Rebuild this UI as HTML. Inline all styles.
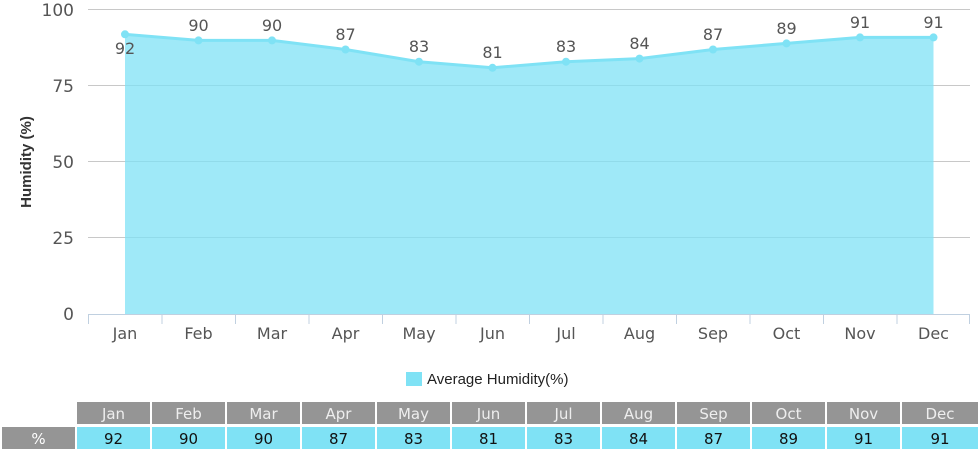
<!DOCTYPE html>
<html><head><style>
body{margin:0;background:#fff;width:980px;height:460px;overflow:hidden;font-family:"Liberation Sans",sans-serif}
</style></head><body>
<svg width="980" height="460" xmlns="http://www.w3.org/2000/svg" style="position:absolute;left:0;top:0">
<g stroke="#c8c8c8" stroke-width="1">
<line x1="88" y1="9.5" x2="970" y2="9.5"/>
<line x1="88" y1="85.5" x2="970" y2="85.5"/>
<line x1="88" y1="161.5" x2="970" y2="161.5"/>
<line x1="88" y1="237.5" x2="970" y2="237.5"/>
</g>
<line x1="88" y1="314.5" x2="970" y2="314.5" stroke="#c0d0e0"/>
<g stroke="#c0d0e0">
<line x1="88.5" y1="314" x2="88.5" y2="324"/><line x1="162" y1="314" x2="162" y2="324"/><line x1="235.5" y1="314" x2="235.5" y2="324"/><line x1="309" y1="314" x2="309" y2="324"/><line x1="382.5" y1="314" x2="382.5" y2="324"/><line x1="456" y1="314" x2="456" y2="324"/><line x1="529.5" y1="314" x2="529.5" y2="324"/><line x1="603" y1="314" x2="603" y2="324"/><line x1="676.5" y1="314" x2="676.5" y2="324"/><line x1="750" y1="314" x2="750" y2="324"/><line x1="823.5" y1="314" x2="823.5" y2="324"/><line x1="897" y1="314" x2="897" y2="324"/><line x1="969.5" y1="314" x2="969.5" y2="324"/>
</g>
<polygon fill="#7fe2f5" fill-opacity="0.75" points="125,314 125,34.3 198.5,40.4 272,40.4 345.5,49.5 419,61.7 492.5,67.8 566,61.7 639.5,58.6 713,49.5 786.5,43.4 860,37.4 933.5,37.4 933.5,314"/>
<polyline fill="none" stroke="#7fe2f5" stroke-width="3" points="125,34.3 198.5,40.4 272,40.4 345.5,49.5 419,61.7 492.5,67.8 566,61.7 639.5,58.6 713,49.5 786.5,43.4 860,37.4 933.5,37.4"/>
<g fill="#7fe2f5">
<circle cx="125" cy="34.3" r="4"/><circle cx="198.5" cy="40.4" r="4"/><circle cx="272" cy="40.4" r="4"/><circle cx="345.5" cy="49.5" r="4"/><circle cx="419" cy="61.7" r="4"/><circle cx="492.5" cy="67.8" r="4"/><circle cx="566" cy="61.7" r="4"/><circle cx="639.5" cy="58.6" r="4"/><circle cx="713" cy="49.5" r="4"/><circle cx="786.5" cy="43.4" r="4"/><circle cx="860" cy="37.4" r="4"/><circle cx="933.5" cy="37.4" r="4"/>
</g>
<g font-family="DejaVu Sans, sans-serif" font-size="16" fill="#555" text-anchor="middle">
<text x="125" y="54">92</text><text x="198.5" y="31">90</text><text x="272" y="31">90</text><text x="345.5" y="40">87</text><text x="419" y="52">83</text><text x="492.5" y="58">81</text><text x="566" y="52">83</text><text x="639.5" y="49">84</text><text x="713" y="40">87</text><text x="786.5" y="34">89</text><text x="860" y="28">91</text><text x="933.5" y="28">91</text>
</g>
<g font-family="DejaVu Sans, sans-serif" font-size="17" fill="#555" text-anchor="end">
<text x="74" y="16">100</text><text x="74" y="92">75</text><text x="74" y="168">50</text><text x="74" y="244">25</text><text x="74" y="320">0</text>
</g>
<g font-family="DejaVu Sans, sans-serif" font-size="16" fill="#555" text-anchor="middle">
<text x="125" y="339">Jan</text><text x="198.5" y="339">Feb</text><text x="272" y="339">Mar</text><text x="345.5" y="339">Apr</text><text x="419" y="339">May</text><text x="492.5" y="339">Jun</text><text x="566" y="339">Jul</text><text x="639.5" y="339">Aug</text><text x="713" y="339">Sep</text><text x="786.5" y="339">Oct</text><text x="860" y="339">Nov</text><text x="933.5" y="339">Dec</text>
</g>
<text transform="translate(31,162) rotate(-90)" text-anchor="middle" font-family="Liberation Sans,sans-serif" font-weight="bold" font-size="15" fill="#333">Humidity (%)</text>
<rect x="406" y="372" width="16" height="14" fill="#7fe2f5"/>
<text x="427" y="384" font-family="Liberation Sans,sans-serif" font-size="15" fill="#222">Average Humidity(%)</text>
<rect x="2" y="427" width="73" height="22" fill="#959595"/>
<text x="38.5" y="444" text-anchor="middle" font-family="DejaVu Sans,sans-serif" font-size="15" fill="#fff">%</text>
<g font-family="DejaVu Sans,sans-serif" font-size="15" text-anchor="middle">
<g fill="#959595">
<rect x="77" y="402" width="73" height="22"/><rect x="152" y="402" width="73" height="22"/><rect x="227" y="402" width="73" height="22"/><rect x="302" y="402" width="73" height="22"/><rect x="377" y="402" width="73" height="22"/><rect x="452" y="402" width="73" height="22"/><rect x="527" y="402" width="73" height="22"/><rect x="602" y="402" width="73" height="22"/><rect x="677" y="402" width="73" height="22"/><rect x="752" y="402" width="73" height="22"/><rect x="827" y="402" width="73" height="22"/><rect x="902" y="402" width="76" height="22"/>
</g>
<g fill="#7fe2f5">
<rect x="77" y="427" width="73" height="22"/><rect x="152" y="427" width="73" height="22"/><rect x="227" y="427" width="73" height="22"/><rect x="302" y="427" width="73" height="22"/><rect x="377" y="427" width="73" height="22"/><rect x="452" y="427" width="73" height="22"/><rect x="527" y="427" width="73" height="22"/><rect x="602" y="427" width="73" height="22"/><rect x="677" y="427" width="73" height="22"/><rect x="752" y="427" width="73" height="22"/><rect x="827" y="427" width="73" height="22"/><rect x="902" y="427" width="76" height="22"/>
</g>
<g fill="#eee">
<text x="113.5" y="419">Jan</text><text x="188.5" y="419">Feb</text><text x="263.5" y="419">Mar</text><text x="338.5" y="419">Apr</text><text x="413.5" y="419">May</text><text x="488.5" y="419">Jun</text><text x="563.5" y="419">Jul</text><text x="638.5" y="419">Aug</text><text x="713.5" y="419">Sep</text><text x="788.5" y="419">Oct</text><text x="863.5" y="419">Nov</text><text x="940" y="419">Dec</text>
</g>
<g fill="#111">
<text x="113.5" y="444">92</text><text x="188.5" y="444">90</text><text x="263.5" y="444">90</text><text x="338.5" y="444">87</text><text x="413.5" y="444">83</text><text x="488.5" y="444">81</text><text x="563.5" y="444">83</text><text x="638.5" y="444">84</text><text x="713.5" y="444">87</text><text x="788.5" y="444">89</text><text x="863.5" y="444">91</text><text x="940" y="444">91</text>
</g>
</g>
</svg>
</body></html>
